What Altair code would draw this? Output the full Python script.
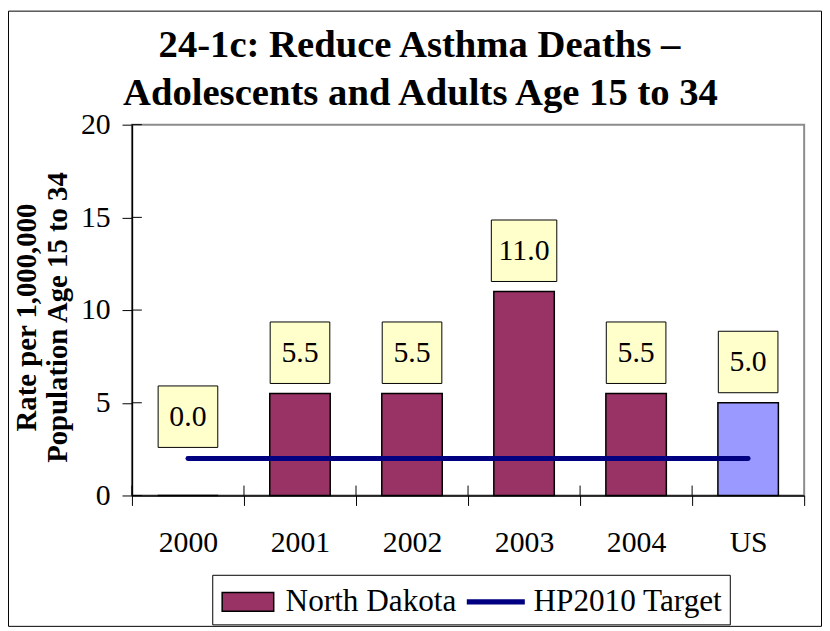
import altair as alt
import pandas as pd

categories = ["2000", "2001", "2002", "2003", "2004", "US"]
rates = [0.0, 5.5, 5.5, 11.0, 5.5, 5.0]
target = [2.0, 2.0, 2.0, 2.0, 2.0, 2.0]
labels = ["0.0", "5.5", "5.5", "11.0", "5.5", "5.0"]
y_ticks = [0, 5, 10, 15, 20]
series = ["North Dakota", "HP2010 Target"]
title_lines = ["24-1c: Reduce Asthma Deaths \u2013", "Adolescents and Adults Age 15 to 34"]
y_title = ["Rate per 1,000,000", "Population Age 15 to 34"]

W, H = 678, 374
FONT = "Liberation Serif, Times New Roman, serif"

df = pd.DataFrame({"cat": categories, "rate": rates, "target": target, "label": labels})

xs = alt.Scale(domain=categories, paddingInner=0, paddingOuter=0)
ys = alt.Scale(domain=[0, 20], nice=False)

x_axis = alt.Axis(title=None, labelAngle=0, labelFont=FONT, labelFontSize=30, labelColor="black",
                  tickBand="extent", tickSize=10, tickColor="black", tickWidth=1,
                  domainColor="black", domainWidth=1.5, labelPadding=22, grid=False)
y_axis = alt.Axis(values=y_ticks, title=y_title, titleFont=FONT, titleFontSize=29,
                  titleFontWeight="bold", titleColor="black", titleLineHeight=31, titlePadding=8,
                  titleY=194,
                  labelFont=FONT, labelFontSize=30, labelColor="black", tickSize=10,
                  tickColor="black", tickWidth=1, domainColor="black", domainWidth=1.5,
                  labelPadding=12, grid=False)


def X(**kw):
    return alt.X("cat:N", scale=xs, sort=categories, axis=x_axis, **kw)


base = alt.Chart(df)
one = pd.DataFrame({"a": [0]})

frame = alt.Chart(one).mark_rect(
    fill="transparent", stroke="black", strokeWidth=1
).encode(x=alt.value(-124.5), x2=alt.value(695.5), y=alt.value(-114.5), y2=alt.value(506))

title1 = alt.Chart(one).mark_text(
    font=FONT, fontSize=39, fontWeight="bold", color="black", align="center", baseline="alphabetic"
).encode(x=alt.value(290), y=alt.value(-68), text=alt.value(title_lines[0]))
title2 = alt.Chart(one).mark_text(
    font=FONT, fontSize=39, fontWeight="bold", color="black", align="center", baseline="alphabetic"
).encode(x=alt.value(291), y=alt.value(-20), text=alt.value(title_lines[1]))

bars = base.mark_bar(width=61, stroke="black", strokeWidth=1.5).encode(
    x=X(),
    y=alt.Y("rate:Q", scale=ys, axis=y_axis),
    fill=alt.condition(alt.datum.cat == "US", alt.value("#9999FF"), alt.value("#993366")),
)

line = base.mark_line(color="#000080", strokeWidth=5, strokeCap="round").encode(
    x=X(), y=alt.Y("target:Q", scale=ys, axis=y_axis)
)

yt = alt.Chart(pd.DataFrame({"rate": y_ticks})).mark_rule(color="black", strokeWidth=1).encode(
    y=alt.Y("rate:Q", scale=ys, axis=y_axis), x=alt.value(0), x2=alt.value(10)
)
xt = alt.Chart(pd.DataFrame({"cat": categories})).mark_rule(color="black", strokeWidth=1).encode(
    x=X(bandPosition=0), y=alt.value(H - 10), y2=alt.value(H)
)

lab = base.transform_calculate(
    ly="datum.rate == 0 ? 4.25 : datum.rate + 2.2", n="length(datum.label)"
)
box3 = lab.transform_filter("datum.n <= 3").mark_point(
    shape="M-0.97,-1H0.97V1H-0.97Z", size=3844, filled=True, fill="#FFFFCC",
    stroke="black", strokeWidth=1, opacity=1
).encode(x=X(), y=alt.Y("ly:Q", scale=ys, axis=y_axis))
box4 = lab.transform_filter("datum.n > 3").mark_point(
    shape="M-1.065,-1H1.065V1H-1.065Z", size=3844, filled=True, fill="#FFFFCC",
    stroke="black", strokeWidth=1, opacity=1
).encode(x=X(), y=alt.Y("ly:Q", scale=ys, axis=y_axis))
texts = lab.mark_text(font=FONT, fontSize=30, baseline="middle", color="black").encode(
    x=X(), y=alt.Y("ly:Q", scale=ys, axis=y_axis), text="label:N"
)

rect_path = "M-1.368,-0.5H1.368V0.5H-1.368Z"
line_path = "M-1.5,-0.1H1.5V0.1H-1.5Z"
leg = alt.Legend(title=None, orient="none", legendX=81, legendY=454, direction="horizontal",
                 labelFont=FONT, labelFontSize=31.5, labelColor="black", labelLimit=400,
                 symbolSize=1444, symbolStrokeWidth=1.5, strokeColor="black", fillColor="white",
                 padding=7, labelOffset=18, columnPadding=7, symbolOffset=9, symbolOpacity=1)
legend_layer = alt.Chart(pd.DataFrame({"series": series})).mark_point(
    filled=True, opacity=0, size=1444
).encode(
    x=alt.value(0), y=alt.value(0),
    shape=alt.Shape("series:N", scale=alt.Scale(domain=series, range=[rect_path, line_path]), legend=leg),
    fill=alt.Fill("series:N", scale=alt.Scale(domain=series, range=["#993366", "#000080"]), legend=leg),
    stroke=alt.Stroke("series:N", scale=alt.Scale(domain=series, range=["black", "#000080"]), legend=leg),
)

chart = alt.layer(frame, title1, title2, bars, line, yt, xt, box3, box4, texts, legend_layer).properties(
    width=W, height=H,
    padding={"left": 125, "top": 115, "right": 18, "bottom": 133},
    autosize=alt.AutoSizeParams(type="none"),
).configure_view(stroke="#8c8c8c", strokeWidth=2)

chart.save("out.html", embed_options={"renderer": "svg", "actions": False})
